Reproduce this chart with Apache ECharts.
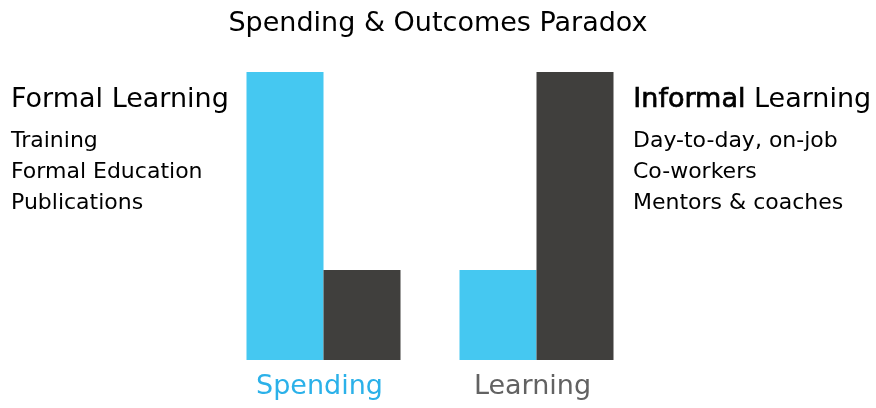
<!DOCTYPE html>
<html>
<head>
    <meta charset="utf-8">
    <title>Spending & Outcomes Paradox</title>
    <script src="https://cdn.jsdelivr.net/npm/echarts@6/dist/echarts.min.js"></script>
    <style type="text/css">
        * { margin: 0; padding: 0; }
        body { background: #fff; }
    </style>
</head>
<body>
<div id="main" style="width: 876px;height: 408px;"></div>
<script type="text/javascript">
        var categories = ['Spending', 'Learning'];
        var formalValues = [80, 25];
        var informalValues = [25, 80];
        var formalItems = ['Training', 'Formal Education', 'Publications'];
        var informalItems = ['Day-to-day, on-job', 'Co-workers', 'Mentors & coaches'];
        var labelColors = ['#2BB1E9', '#626262'];

        var myChart = echarts.init(document.getElementById('main'));
        var font = 'DejaVu Sans';

        var option = {
            color: ['#45C8F1', '#403F3D'],
            animation: false,
            title: {
                text: 'Spending & Outcomes Paradox',
                left: 'center',
                top: 5,
                textStyle: { fontFamily: font, fontSize: 27, fontWeight: 'normal', color: '#000' }
            },
            grid: {
                left: 217,
                right: 233,
                top: 72,
                bottom: 48,
                containLabel: false
            },
            xAxis: {
                type: 'category',
                data: categories,
                axisTick: { show: false },
                axisLine: { show: false },
                axisLabel: {
                    margin: 13,
                    padding: [0, 8, 0, 0],
                    fontFamily: font,
                    fontSize: 27,
                    color: function (value, index) {
                        return labelColors[index];
                    }
                }
            },
            yAxis: {
                type: 'value',
                min: 0,
                max: 80,
                show: false
            },
            graphic: [
                {
                    type: 'text', left: 11, top: 86,
                    style: { text: 'Formal Learning', font: '27px "DejaVu Sans"', fill: '#000' }
                },
                {
                    type: 'text', left: 11, top: 126,
                    style: { text: formalItems.join('\n'), font: '22px "DejaVu Sans"', lineHeight: 31, fill: '#000' }
                },
                {
                    type: 'text', left: 633, top: 86,
                    style: {
                        text: '{b|Informal} Learning',
                        font: '27px "DejaVu Sans"',
                        fill: '#000',
                        rich: { b: { fontFamily: font, fontSize: 27, fill: '#000', stroke: '#000', lineWidth: 0.7 } }
                    }
                },
                {
                    type: 'text', left: 633, top: 126,
                    style: { text: informalItems.join('\n'), font: '22px "DejaVu Sans"', lineHeight: 31, fill: '#000' }
                }
            ],
            series: [
                {
                    name: 'Formal Learning',
                    type: 'bar',
                    barWidth: 77,
                    barGap: '0%',
                    data: formalValues
                },
                {
                    name: 'Informal Learning',
                    type: 'bar',
                    barWidth: 77,
                    data: informalValues
                }
            ]
        };
        myChart.setOption(option);

        window.addEventListener('resize', function () {
            myChart.resize();
        });
</script>
</body>
</html>
